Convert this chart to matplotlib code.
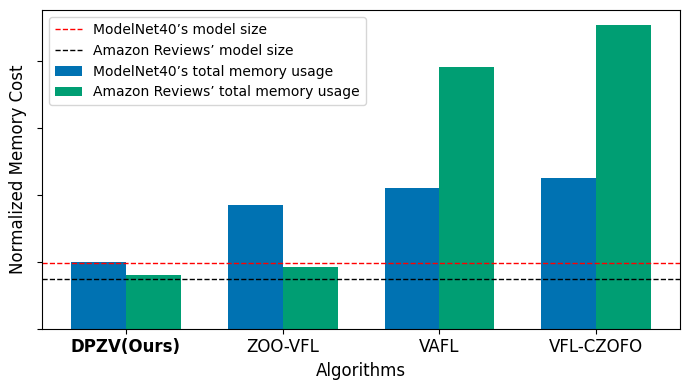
import matplotlib
matplotlib.use("Agg")
import matplotlib.pyplot as plt
import numpy as np

algorithms = ['DPZV(Ours)', 'ZOO-VFL', 'VAFL', 'VFL-CZOFO']
modelnet_mem = [1.0, 1.85, 2.11, 2.26]
amazon_mem = [0.80, 0.93, 3.91, 4.54]
modelnet_size = 0.985
amazon_size = 0.75

x = np.arange(len(algorithms))
width = 0.35

fig, ax = plt.subplots(figsize=(6.9, 3.9), dpi=100)
ax.axhline(modelnet_size, color='red', linestyle='--', linewidth=1, label='ModelNet40’s model size')
ax.axhline(amazon_size, color='black', linestyle='--', linewidth=1, label='Amazon Reviews’ model size')
ax.bar(x - width / 2, modelnet_mem, width, color='#0072B2', label='ModelNet40’s total memory usage')
ax.bar(x + width / 2, amazon_mem, width, color='#009E73', label='Amazon Reviews’ total memory usage')

ax.set_xticks(x)
ax.set_xticklabels(algorithms, fontsize=12)
ax.get_xticklabels()[0].set_fontweight('bold')
ax.set_yticks([0, 1, 2, 3, 4])
ax.set_yticklabels([])
ax.set_xlabel('Algorithms', fontsize=12)
ax.set_ylabel('Normalized Memory Cost', fontsize=12)
ax.legend(loc='upper left')

fig.subplots_adjust(left=0.061, right=0.9855, top=0.974, bottom=0.157)
plt.savefig('out.png')
